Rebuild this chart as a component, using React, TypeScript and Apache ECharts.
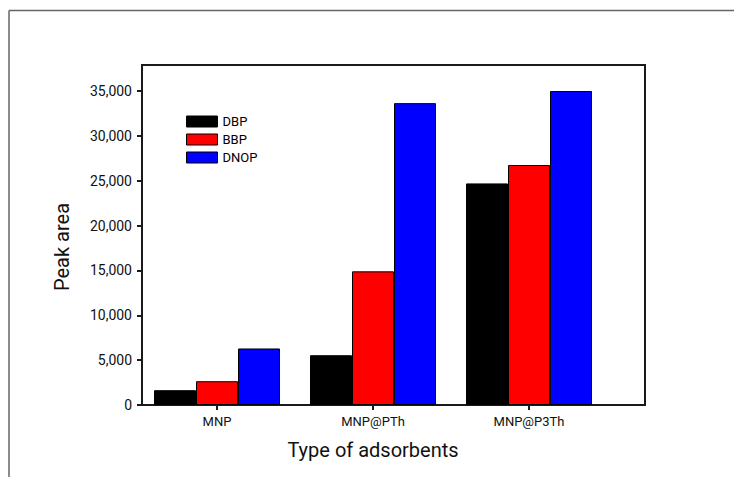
import React, { useEffect, useRef } from "react";
import * as echarts from "echarts";

const categories = ["MNP", "MNP@PTh", "MNP@P3Th"];
const seriesNames = ["DBP", "BBP", "DNOP"];
const dbp = [1650, 5550, 24700];
const bbp = [2650, 14900, 26750];
const dnop = [6300, 33650, 35000];
const colors = ["#000000", "#ff0000", "#0000ff"];
const yTicks = [0, 5000, 10000, 15000, 20000, 25000, 30000, 35000];
const yMax = 37900;

export default function App() {
  const ref = useRef<HTMLDivElement>(null);
  useEffect(() => {
    if (!ref.current) return;
    const chart = echarts.init(ref.current, undefined, { renderer: "svg" });
    const font = "Roboto";
    const values = [dbp, bbp, dnop];
    chart.setOption({
      animation: false,
      backgroundColor: "#ffffff",
      textStyle: { fontFamily: font },
      legend: {
        orient: "vertical",
        left: 186,
        top: 115,
        padding: 0,
        icon: "rect",
        itemWidth: 31,
        itemHeight: 11,
        itemGap: 5,
        itemStyle: { borderColor: "#000", borderWidth: 1 },
        data: seriesNames,
        textStyle: { fontFamily: font, fontSize: 13, color: "#000" },
      },
      grid: [
        { left: 142, right: 89, top: 65, bottom: 72, show: true, borderColor: "#1a1a1a", borderWidth: 2, backgroundColor: "transparent" },
        { left: 139, width: 468, top: 65, bottom: 72 },
      ],
      xAxis: [
        {
          type: "category",
          gridIndex: 0,
          data: categories,
          axisLine: { show: true, lineStyle: { color: "#1a1a1a", width: 2 } },
          axisTick: { show: false },
          axisLabel: { show: false },
        },
        {
          type: "category",
          gridIndex: 1,
          data: categories,
          axisLine: { show: false },
          axisTick: { show: true, alignWithLabel: true, length: 5, lineStyle: { color: "#1a1a1a", width: 2 } },
          axisLabel: { fontFamily: font, fontSize: 13, color: "#111", margin: 10 },
          name: "Type of adsorbents",
          nameLocation: "middle",
          nameGap: 35,
          nameTextStyle: { fontFamily: font, fontSize: 20, color: "#111" },
        },
      ],
      yAxis: [
        {
          type: "value",
          gridIndex: 0,
          min: 0,
          max: yMax,
          axisLine: { show: true, lineStyle: { color: "#1a1a1a", width: 2 } },
          axisTick: { show: true, length: 5, customValues: yTicks, lineStyle: { color: "#1a1a1a", width: 2 } },
          axisLabel: {
            fontFamily: font,
            fontSize: 14,
            color: "#111",
            margin: 10,
            customValues: yTicks,
            formatter: (v: number) => v.toLocaleString("en-US"),
          },
          splitLine: { show: false },
        },
        {
          type: "value",
          gridIndex: 1,
          min: 0,
          max: yMax,
          show: false,
          splitLine: { show: false },
        },
      ],
      series: seriesNames.map((n, i) => ({
        name: n,
        type: "bar",
        xAxisIndex: 1,
        yAxisIndex: 1,
        data: values[i],
        barWidth: 42,
        barGap: "0%",
        itemStyle: { color: colors[i], borderColor: "#000", borderWidth: 1 },
      })),
      graphic: [
        { type: "line", shape: { x1: 9, y1: 10.5, x2: 734, y2: 10.5 }, style: { stroke: "#666", lineWidth: 1.5 } },
        { type: "line", shape: { x1: 9, y1: 10.5, x2: 9, y2: 477 }, style: { stroke: "#666", lineWidth: 1.5 } },
        {
          type: "text",
          x: 62,
          y: 247,
          rotation: Math.PI / 2,
          style: { text: "Peak area", fontFamily: font, fontSize: 20, fill: "#111", align: "center", verticalAlign: "middle" },
        },
      ],
    });
    return () => chart.dispose();
  }, []);
  return <div ref={ref} style={{ width: 734, height: 477, position: "absolute", left: 0, top: 0 }} />;
}
